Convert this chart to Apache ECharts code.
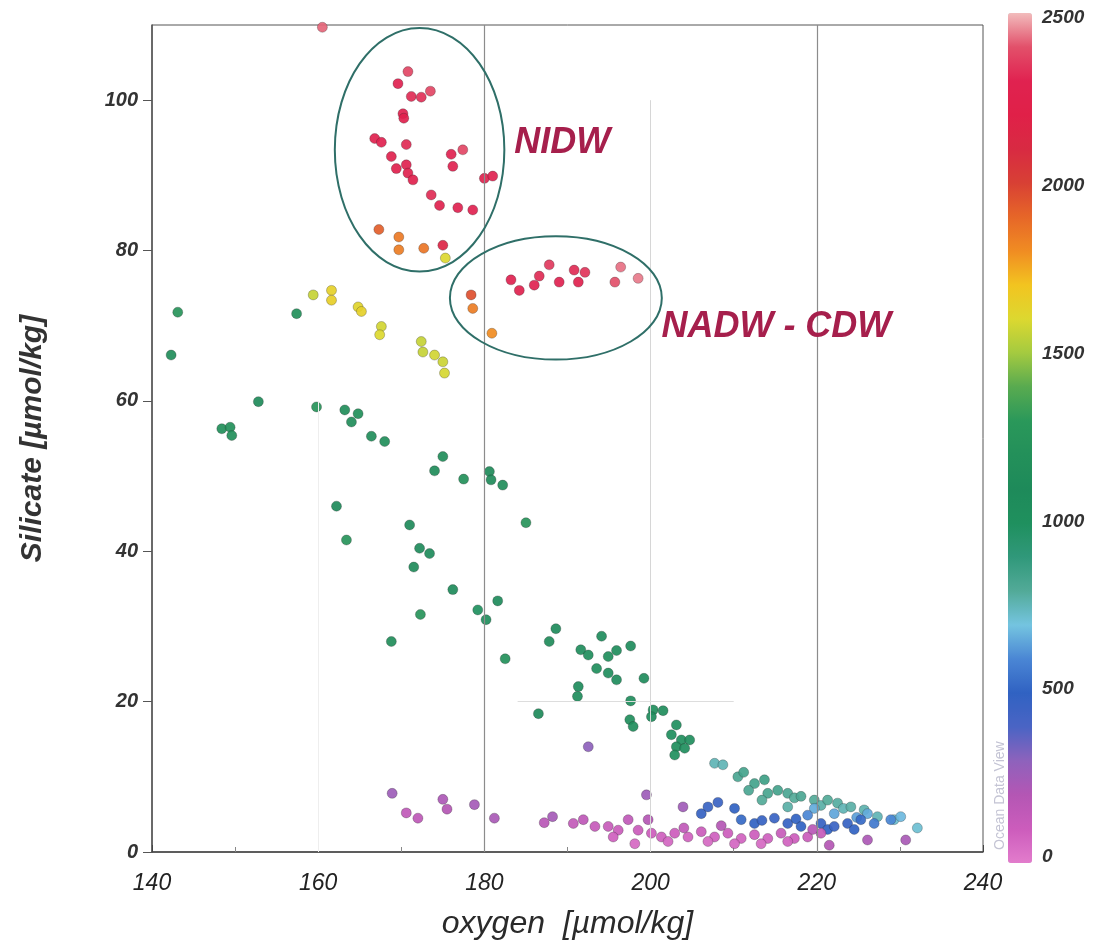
<!DOCTYPE html>
<html>
<head>
<meta charset="utf-8">
<script src="https://cdn.jsdelivr.net/npm/echarts@6/dist/echarts.min.js"></script>
<style>
  html, body { margin: 0; padding: 0; background: #fff; }
  #chart { width: 1110px; height: 952px; }
</style>
</head>
<body>
<div id="chart"></div>
<script>
// [oxygen, silicate, depth]
const nidwPoints = [
  [160.5, 109.7, 2420], [170.8, 103.8, 2380], [169.6, 102.2, 2300], [171.2, 100.5, 2320],
  [172.4, 100.4, 2330], [173.5, 101.2, 2380], [170.2, 98.2, 2280], [170.3, 97.6, 2260],
  [166.8, 94.9, 2280], [167.6, 94.4, 2300], [170.6, 94.1, 2320], [176.0, 92.8, 2300],
  [177.4, 93.4, 2380], [176.2, 91.2, 2300], [168.8, 92.5, 2280], [169.4, 90.9, 2260],
  [170.6, 91.4, 2300], [170.8, 90.3, 2280], [171.4, 89.4, 2260], [180.0, 89.6, 2280],
  [181.0, 89.9, 2300], [173.6, 87.4, 2320], [174.6, 86.0, 2280], [176.8, 85.7, 2300],
  [178.6, 85.4, 2300]
];
const transitionPoints = [
  [167.3, 82.8, 1920], [169.7, 81.8, 1850], [169.7, 80.1, 1840], [172.7, 80.3, 1860],
  [175.0, 80.7, 2150], [175.3, 79.0, 1600], [178.4, 74.1, 1960], [178.6, 72.3, 1840],
  [180.9, 69.0, 1800]
];
const nadwPoints = [
  [183.2, 76.1, 2300], [184.2, 74.7, 2280], [186.0, 75.4, 2300], [186.6, 76.6, 2320],
  [187.8, 78.1, 2350], [189.0, 75.8, 2300], [190.8, 77.4, 2320], [191.3, 75.8, 2280],
  [192.1, 77.1, 2340], [195.7, 75.8, 2400], [196.4, 77.8, 2430], [198.5, 76.3, 2440]
];
const upperPoints = [
  [159.4, 74.1, 1560], [161.6, 74.7, 1640], [161.6, 73.4, 1650], [164.8, 72.5, 1620],
  [165.2, 71.9, 1640], [167.6, 69.9, 1580], [167.4, 68.8, 1600], [172.4, 67.9, 1560],
  [172.6, 66.5, 1560], [174.0, 66.1, 1580], [175.0, 65.2, 1570], [175.2, 63.7, 1590]
];
const intermediatePoints = [
  [143.1, 71.8, 1250], [142.3, 66.1, 1150], [157.4, 71.6, 1180], [152.8, 59.9, 1120],
  [148.4, 56.3, 1180], [149.4, 56.5, 1200], [149.6, 55.4, 1180], [159.8, 59.2, 1250],
  [163.2, 58.8, 1150], [164.8, 58.3, 1180], [164.0, 57.2, 1150], [166.4, 55.3, 1150],
  [168.0, 54.6, 1160], [175.0, 52.6, 1150], [174.0, 50.7, 1140], [177.5, 49.6, 1200],
  [180.6, 50.6, 1120], [182.2, 48.8, 1150], [180.8, 49.5, 1120], [162.2, 46.0, 1100],
  [163.4, 41.5, 1250], [171.0, 43.5, 1100], [172.2, 40.4, 1080], [173.4, 39.7, 1080],
  [171.5, 37.9, 1120], [176.2, 34.9, 1080], [172.3, 31.6, 1250], [179.2, 32.2, 1000],
  [180.2, 30.9, 1050], [181.6, 33.4, 1080], [168.8, 28.0, 1150], [182.5, 25.7, 1200],
  [188.6, 29.7, 1080], [187.8, 28.0, 1120], [186.5, 18.4, 1100], [185.0, 43.8, 1250]
];
const deepGreenPoints = [
  [191.6, 26.9, 1050], [192.5, 26.2, 1040], [191.3, 22.0, 1060], [191.2, 20.7, 1050],
  [194.1, 28.7, 1060], [194.9, 26.0, 1040], [195.9, 26.8, 1050], [197.6, 27.4, 1060],
  [193.5, 24.4, 1040], [194.9, 23.8, 1050], [195.9, 22.9, 1060], [199.2, 23.1, 1080],
  [197.6, 20.1, 1050], [197.5, 17.6, 1040], [197.9, 16.7, 1050], [200.3, 18.9, 1040],
  [201.5, 18.8, 1050], [200.1, 18.0, 1060], [203.1, 16.9, 1030], [202.5, 15.6, 1030],
  [203.7, 14.9, 1020], [204.7, 14.9, 1030], [203.1, 14.0, 1040], [204.1, 13.8, 1030],
  [202.9, 12.9, 1020], [192.5, 14.0, 300]
];
const thermoclinePoints = [
  [207.7, 11.8, 760], [208.7, 11.6, 760], [210.5, 10.0, 820], [211.2, 10.6, 840],
  [212.5, 9.1, 840], [213.7, 9.6, 860], [214.1, 7.8, 830], [215.3, 8.2, 840],
  [216.5, 7.8, 820], [217.3, 7.2, 800], [218.1, 7.4, 820], [219.7, 6.9, 800],
  [220.5, 6.2, 780], [221.3, 6.9, 800], [222.5, 6.5, 790], [223.2, 5.8, 760],
  [224.1, 6.0, 780], [225.7, 5.6, 770], [227.3, 4.7, 760], [229.3, 4.3, 720],
  [232.1, 3.2, 720], [211.8, 8.2, 820], [213.4, 6.9, 800], [216.5, 6.0, 780],
  [219.7, 5.8, 660], [222.1, 5.1, 650], [226.1, 5.1, 660], [230.1, 4.7, 680],
  [224.8, 4.6, 640], [218.9, 4.9, 600]
];
const bluePoints = [
  [206.1, 5.1, 480], [206.9, 6.0, 470], [208.1, 6.6, 460], [210.1, 5.8, 500],
  [210.9, 4.3, 520], [212.5, 3.8, 500], [213.4, 4.2, 480], [214.9, 4.5, 470],
  [216.5, 3.8, 480], [217.5, 4.4, 500], [218.1, 3.4, 500], [220.5, 3.8, 480],
  [221.3, 3.0, 500], [222.1, 3.4, 460], [223.7, 3.8, 480], [224.5, 3.0, 500],
  [225.3, 4.3, 520], [226.9, 3.8, 560], [228.9, 4.3, 600]
];
const surfacePoints = [
  [168.9, 7.8, 260], [170.6, 5.2, 150], [172.0, 4.5, 160], [175.0, 7.0, 220],
  [175.5, 5.7, 200], [178.8, 6.3, 240], [181.2, 4.5, 230], [188.2, 4.7, 240],
  [190.7, 3.8, 140], [191.9, 4.3, 160], [193.3, 3.4, 130], [194.9, 3.4, 120],
  [196.1, 2.9, 110], [197.3, 4.3, 150], [198.5, 2.9, 110], [199.7, 4.3, 200],
  [199.5, 7.6, 260], [203.9, 6.0, 250], [200.1, 2.5, 100], [201.3, 2.0, 90],
  [202.9, 2.5, 100], [204.5, 2.0, 80], [206.1, 2.7, 110], [207.7, 2.0, 90],
  [209.3, 2.5, 100], [210.9, 1.8, 80], [212.5, 2.3, 100], [214.1, 1.8, 90],
  [215.7, 2.5, 120], [217.3, 1.8, 100], [218.9, 2.0, 110], [220.5, 2.5, 130],
  [221.5, 0.9, 200], [226.1, 1.6, 220], [230.7, 1.6, 230], [198.1, 1.1, 60],
  [202.1, 1.4, 70], [206.9, 1.4, 60], [210.1, 1.1, 70], [213.3, 1.1, 60],
  [216.5, 1.4, 80], [187.2, 3.9, 180], [195.5, 2.0, 90], [204.0, 3.2, 150],
  [208.5, 3.5, 200], [219.5, 3.0, 180]
];

const depthTicks = [0, 500, 1000, 1500, 2000, 2500];

const allPoints = [].concat(
  nidwPoints, transitionPoints, nadwPoints, upperPoints, intermediatePoints,
  deepGreenPoints, thermoclinePoints, bluePoints, surfacePoints
);

// colours every 100 m, 0 .. 2500
const depthColors = [
  "#e27ccc", "#cc5cbc", "#b456b4", "#8e62bc", "#4a64c4", "#3062c2",
  "#4a86d4", "#74c4e0", "#52aa98", "#30987a", "#1f905e", "#1e8a5a",
  "#23905a", "#2a985a", "#58aa50", "#a4ca40", "#dcd830", "#f2c420",
  "#f08c22", "#e66628", "#d84034", "#d82a42", "#e02048", "#e02250",
  "#e2506a", "#f2bcbc"
];

const FONT = "'Liberation Sans', Arial, sans-serif";
const NARROW = "'Liberation Sans Narrow', 'Liberation Sans', Arial, sans-serif";

const chart = echarts.init(document.getElementById("chart"));

chart.setOption({
  animation: false,
  backgroundColor: "#fff",
  grid: [
    {
      left: 152, right: 127, top: 25, bottom: 100,
      show: true, borderColor: "#555", borderWidth: 1,
    },
    { left: 1008, top: 18, width: 24, height: 839 },
  ],
  xAxis: [
    {
      type: "value", min: 140, max: 240, interval: 20,
      name: "oxygen  [µmol/kg]", nameLocation: "middle", nameGap: 56,
      nameTextStyle: { fontFamily: NARROW, fontStyle: "italic", fontSize: 32, color: "#2a2a2a" },
      axisLine: { lineStyle: { color: "#444", width: 1.5 } },
      axisTick: { inside: true, length: 7, lineStyle: { color: "#444" } },
      minorTick: { show: true, splitNumber: 2, length: 5, lineStyle: { color: "#888" } },
      axisLabel: {
        margin: 20, fontFamily: NARROW, fontStyle: "italic", fontSize: 23, color: "#222",
      },
      splitLine: { show: false },
    },
    { gridIndex: 1, type: "value", show: false, min: 0, max: 1 },
  ],
  yAxis: [
    {
      type: "value", min: 0, max: 110, interval: 20,
      name: "Silicate [µmol/kg]", nameLocation: "middle", nameGap: 104,
      nameTextStyle: { fontFamily: NARROW, fontStyle: "italic", fontWeight: "bold", fontSize: 30, color: "#333" },
      axisLine: { lineStyle: { color: "#555", width: 1.5 } },
      axisTick: { length: 9, lineStyle: { color: "#555" } },
      axisLabel: {
        margin: 14, fontFamily: FONT, fontStyle: "italic", fontWeight: "bold", fontSize: 20, color: "#333",
        showMaxLabel: false,
      },
      splitLine: { show: false },
    },
    {
      gridIndex: 1, type: "value", min: 0, max: 2500, interval: 500, position: "right",
      axisLine: { show: false }, axisTick: { show: false }, splitLine: { show: false },
      axisLabel: {
        margin: 10, fontFamily: FONT, fontStyle: "italic", fontWeight: "bold", fontSize: 19, color: "#333",
        formatter: (v) => (depthTicks.indexOf(v) >= 0 ? String(v) : ""),
      },
    },
  ],
  visualMap: {
    type: "continuous",
    seriesIndex: 0,
    dimension: 2,
    min: 0,
    max: 2500,
    left: 1003,
    top: 8,
    padding: 5,
    itemWidth: 24,
    itemHeight: 850,
    text: ["", ""],
    showLabel: false,
    calculable: false,
    realtime: false,
    inRange: { color: depthColors },
  },
  series: [
    {
      type: "scatter",
      data: allPoints,
      symbol: "circle",
      symbolSize: 10,
      itemStyle: { opacity: 0.92, borderColor: "rgba(40,40,40,0.3)", borderWidth: 1 },
      z: 3,
      markLine: {
        silent: true,
        symbol: "none",
        label: { show: false },
        data: [
          { xAxis: 180, lineStyle: { color: "#8c8c8c", width: 1.2, type: "solid" } },
          { xAxis: 220, lineStyle: { color: "#8c8c8c", width: 1.2, type: "solid" } },
          [
            { coord: [200, 0], lineStyle: { color: "#d6d6d6", width: 1, type: "solid" } },
            { coord: [200, 100] },
          ],
          [
            { coord: [160, 0], lineStyle: { color: "#eeeeee", width: 1, type: "solid" } },
            { coord: [160, 60] },
          ],
          [
            { coord: [184, 20], lineStyle: { color: "#dddddd", width: 1, type: "solid" } },
            { coord: [210, 20] },
          ],
        ],
      },
    },
  ],
});

// annotation shapes in data units: [cx, cy, rx, ry]
const ellipses = [
  [172.2, 93.4, 10.2, 16.2],
  [188.6, 73.7, 12.75, 8.2],
];
const notes = [
  { text: "NIDW", at: [183.6, 94.3] },
  { text: "NADW - CDW", at: [201.3, 69.8] },
];

function toPx(p) {
  return chart.convertToPixel({ gridIndex: 0 }, p);
}

const graphics = [];
ellipses.forEach((e, i) => {
  const c = toPx([e[0], e[1]]);
  const dx = toPx([e[0] + e[2], e[1]]);
  const dy = toPx([e[0], e[1] + e[3]]);
  graphics.push({
    type: "ellipse",
    id: "ell" + i,
    shape: { cx: c[0], cy: c[1], rx: Math.abs(dx[0] - c[0]), ry: Math.abs(c[1] - dy[1]) },
    style: { fill: "none", stroke: "#2f6f68", lineWidth: 2 },
    z: 10,
  });
});
notes.forEach((n, i) => {
  const p = toPx(n.at);
  graphics.push({
    type: "text",
    id: "note" + i,
    x: p[0],
    y: p[1],
    style: {
      text: n.text,
      fill: "#a61f4c",
      font: "italic bold 36px " + FONT,
      textVerticalAlign: "middle",
    },
    z: 10,
  });
});
graphics.push({
  type: "text",
  id: "odv",
  x: 1000,
  y: 850,
  rotation: Math.PI / 2,
  style: {
    text: "Ocean Data View",
    fill: "#c4c4d4",
    font: "14px " + NARROW,
    textVerticalAlign: "middle",
  },
  z: 20,
});
chart.setOption({ graphic: graphics });
</script>
</body>
</html>
